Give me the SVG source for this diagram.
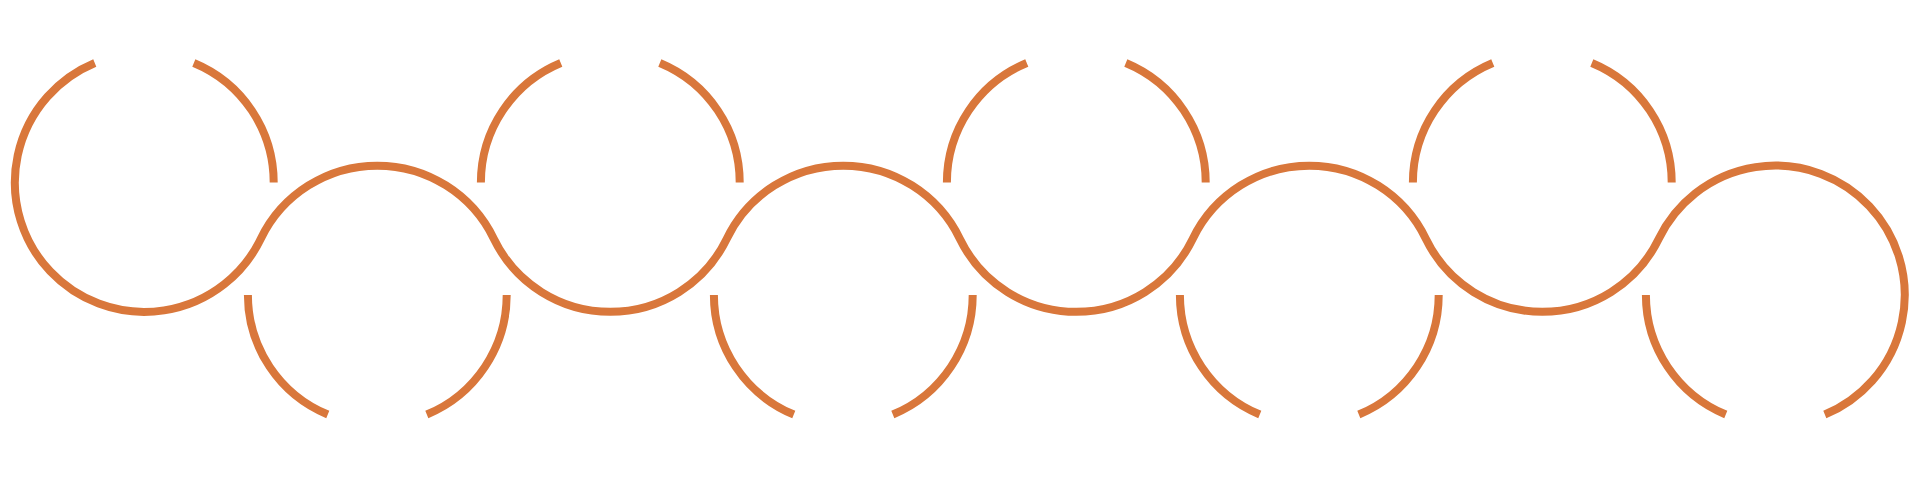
<svg xmlns="http://www.w3.org/2000/svg" width="1920" height="496" viewBox="0 0 1920 496">
  <style>
    .arc { fill: none; stroke: #d9773b; stroke-width: 8; stroke-linecap: butt; }
  </style>
  <rect width="1920" height="496" fill="#ffffff"/>
  <g id="wave">
    <path class="arc" d="M94.78,62.95 A129.4,129.4 0 1 0 260.8,238.75 A129.4,129.4 0 0 1 493.8,238.75 A129.4,129.4 0 0 0 726.8,238.75 A129.4,129.4 0 0 1 959.8,238.75 A129.4,129.4 0 0 0 1192.8,238.75 A129.4,129.4 0 0 1 1425.8,238.75 A129.4,129.4 0 0 0 1658.8,238.75 A129.4,129.4 0 1 1 1824.82,414.55"/>
  </g>
  <g id="upper-arcs">
    <path class="arc" d="M193.82,62.95 A129.4,129.4 0 0 1 273.7,182.5"/>
    <path class="arc" d="M480.9,182.5 A129.4,129.4 0 0 1 560.78,62.95"/>
    <path class="arc" d="M659.82,62.95 A129.4,129.4 0 0 1 739.7,182.5"/>
    <path class="arc" d="M946.9,182.5 A129.4,129.4 0 0 1 1026.78,62.95"/>
    <path class="arc" d="M1125.82,62.95 A129.4,129.4 0 0 1 1205.7,182.5"/>
    <path class="arc" d="M1412.9,182.5 A129.4,129.4 0 0 1 1492.78,62.95"/>
    <path class="arc" d="M1591.82,62.95 A129.4,129.4 0 0 1 1671.7,182.5"/>
  </g>
  <g id="lower-arcs">
    <path class="arc" d="M247.9,295 A129.4,129.4 0 0 0 327.78,414.55"/>
    <path class="arc" d="M506.7,295 A129.4,129.4 0 0 1 426.82,414.55"/>
    <path class="arc" d="M713.9,295 A129.4,129.4 0 0 0 793.78,414.55"/>
    <path class="arc" d="M972.7,295 A129.4,129.4 0 0 1 892.82,414.55"/>
    <path class="arc" d="M1179.9,295 A129.4,129.4 0 0 0 1259.78,414.55"/>
    <path class="arc" d="M1438.7,295 A129.4,129.4 0 0 1 1358.82,414.55"/>
    <path class="arc" d="M1645.9,295 A129.4,129.4 0 0 0 1725.78,414.55"/>
  </g>
</svg>
